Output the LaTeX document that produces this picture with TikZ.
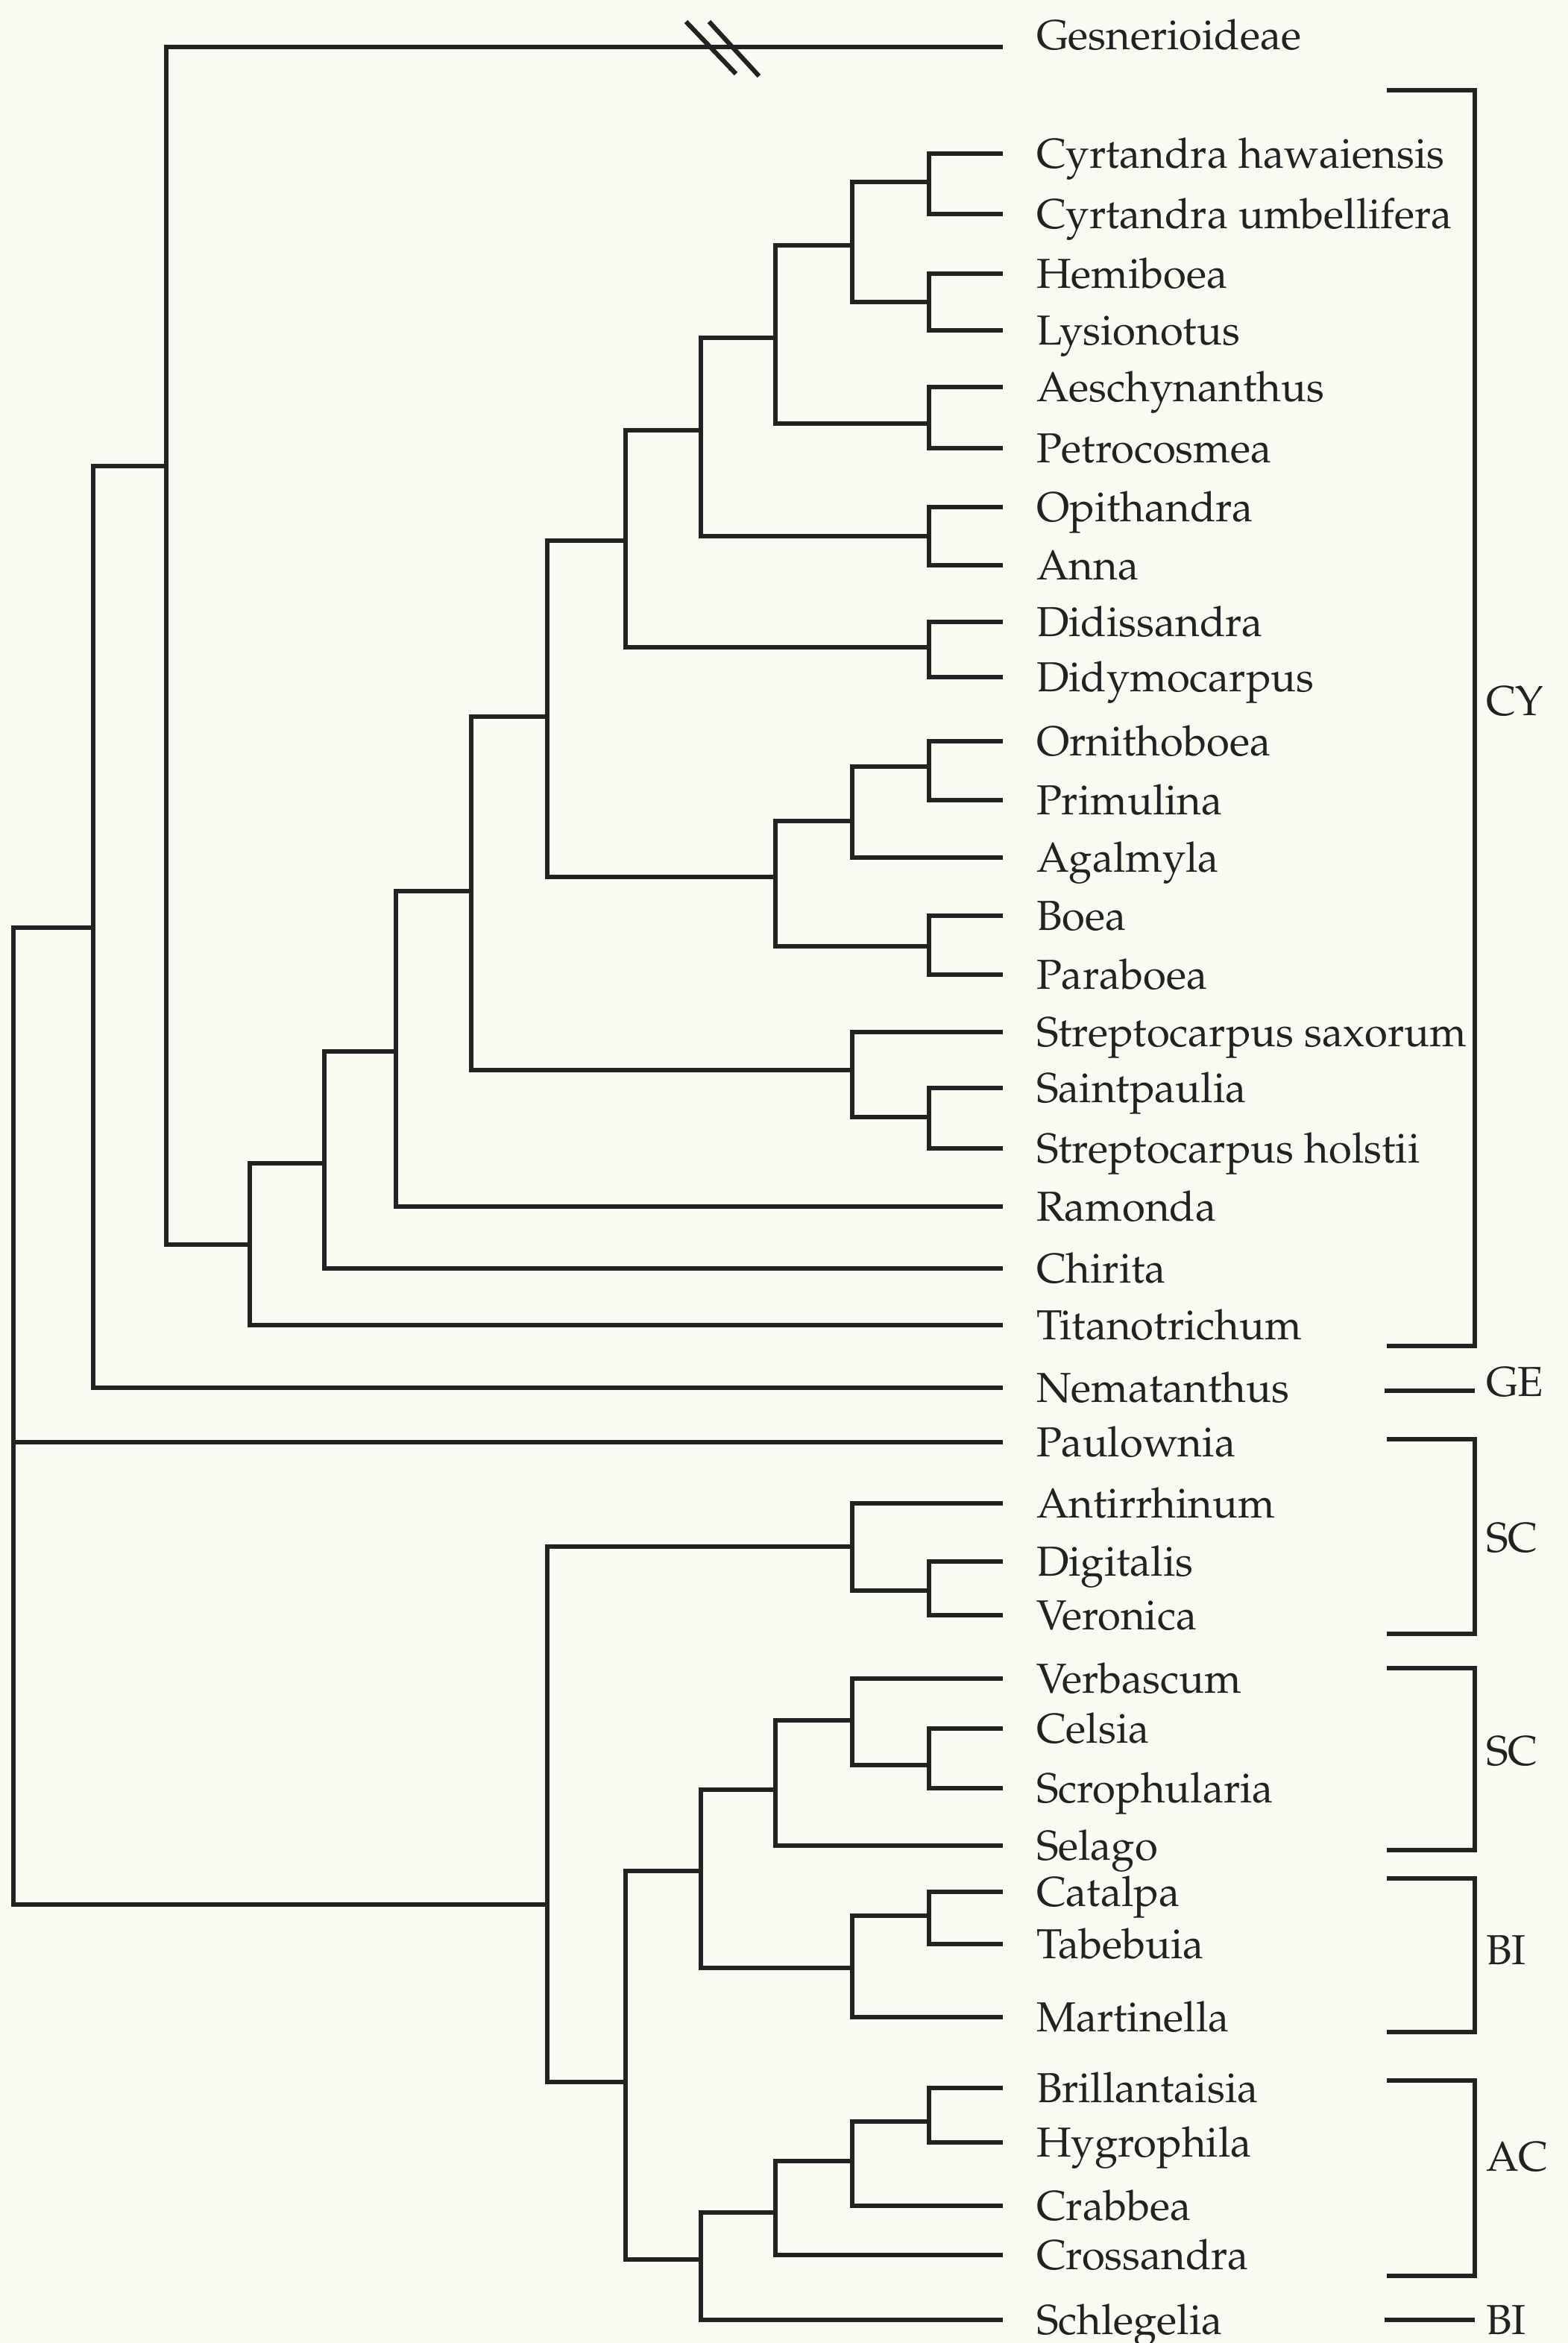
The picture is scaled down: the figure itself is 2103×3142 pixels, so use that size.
\documentclass[tikz,border=0pt]{standalone}
\usepackage[T1]{fontenc}
\usepackage{mathpazo}
\usepackage{xcolor}
\usetikzlibrary{positioning, calc}

\definecolor{paper}{HTML}{FAFAF2}
\definecolor{ink}{HTML}{222222}

\begin{document}
\begin{tikzpicture}[
x=0.1mm, y=-0.1mm,
    branch/.style={draw=ink, line width=1.75pt},
    bracket/.style={draw=ink, line width=1.5pt},
    taxon/.style={anchor=west, inner xsep=4.5mm, inner ysep=0pt, outer sep=0pt, text=ink,
        font=\fontsize{16pt}{19pt}\selectfont, text height=13.3pt, text depth=2.2pt},
    group/.style={taxon, inner xsep=1.5mm}
]

    % Page
    \fill[paper] (0,0) rectangle (2103,3142);
    \useasboundingbox (0,0) rectangle (2103,3142);

    % Taxa (upper part)
    \node[taxon] (gesn) at (1345,47) {Gesnerioideae};
    \coordinate (gtip) at (1345,63);
    \node[taxon] (cyha) at (1345,206) {Cyrtandra hawaiensis};
    \node[taxon] (cyum) at (1345,287) {Cyrtandra umbellifera};
    \node[taxon] (hemi) at (1345,367) {Hemiboea};
    \node[taxon] (lysi) at (1345,443) {Lysionotus};
    \node[taxon] (aesc) at (1345,519) {Aeschynanthus};
    \node[taxon] (petr) at (1345,601) {Petrocosmea};
    \node[taxon] (opit) at (1345,680) {Opithandra};
    \node[taxon] (anna) at (1345,758) {Anna};
    \node[taxon] (didi) at (1345,834) {Didissandra};
    \node[taxon] (didy) at (1345,908) {Didymocarpus};
    \node[taxon] (orni) at (1345,994) {Ornithoboea};
    \node[taxon] (prim) at (1345,1073) {Primulina};
    \node[taxon] (agal) at (1345,1150) {Agalmyla};
    \node[taxon] (boea) at (1345,1228) {Boea};
    \node[taxon] (para) at (1345,1307) {Paraboea};
    \node[taxon] (stsa) at (1345,1384) {Streptocarpus saxorum};
    \node[taxon] (sain) at (1345,1459) {Saintpaulia};
    \node[taxon] (stho) at (1345,1540) {Streptocarpus holstii};
    \node[taxon] (ramo) at (1345,1618) {Ramonda};
    \node[taxon] (chir) at (1345,1701) {Chirita};
    \node[taxon] (tita) at (1345,1777) {Titanotrichum};
    \node[taxon] (nema) at (1345,1861) {Nematanthus};

    % Taxa (lower part)
    \node[taxon] (paul) at (1345,1934) {Paulownia};
    \node[taxon] (anti) at (1345,2016) {Antirrhinum};
    \node[taxon] (digi) at (1345,2094) {Digitalis};
    \node[taxon] (vero) at (1345,2166) {Veronica};
    \node[taxon] (verb) at (1345,2251) {Verbascum};
    \node[taxon] (cels) at (1345,2318) {Celsia};
    \node[taxon] (scro) at (1345,2398) {Scrophularia};
    \node[taxon] (sela) at (1345,2475) {Selago};
    \node[taxon] (cata) at (1345,2537) {Catalpa};
    \node[taxon] (tabe) at (1345,2607) {Tabebuia};
    \node[taxon] (mart) at (1345,2705) {Martinella};
    \node[taxon] (bril) at (1345,2800) {Brillantaisia};
    \node[taxon] (hygr) at (1345,2873) {Hygrophila};
    \node[taxon] (crab) at (1345,2958) {Crabbea};
    \node[taxon] (cros) at (1345,3024) {Crossandra};
    \node[taxon] (schl) at (1345,3111) {Schlegelia};

    % Branch points
    \coordinate (root) at (18,1933);
    \coordinate (gsn) at (125,1244);
    \coordinate (gcore) at (223,625);
    \coordinate (tit) at (335,1669);
    \coordinate (chi) at (435,1560);
    \coordinate (ram) at (531,1410);
    \coordinate (did) at (632,1195);
    \coordinate (dmc) at (734,961);
    \coordinate (dds) at (839,725);
    \coordinate (opg) at (940,577);
    \coordinate (aeg) at (1040,453);
    \coordinate (cyg) at (1143,329);
    \coordinate (cyr) at (1246,244);
    \coordinate (hml) at (1246,405);
    \coordinate (aep) at (1246,568);
    \coordinate (opa) at (1246,719);
    \coordinate (ddd) at (1246,868);
    \coordinate (orb) at (1040,1176);
    \coordinate (orp) at (1143,1101);
    \coordinate (orn) at (1246,1028);
    \coordinate (bop) at (1246,1269);
    \coordinate (stg) at (1143,1435);
    \coordinate (sts) at (1246,1498);
    \coordinate (lam) at (734,2554);
    \coordinate (adv) at (1143,2074);
    \coordinate (dvr) at (1246,2133);
    \coordinate (lmb) at (839,2792);
    \coordinate (scb) at (940,2509);
    \coordinate (scs) at (1040,2400);
    \coordinate (vcs) at (1143,2307);
    \coordinate (csc) at (1246,2367);
    \coordinate (bgn) at (1143,2639);
    \coordinate (ctt) at (1246,2569);
    \coordinate (acs) at (940,3030);
    \coordinate (acc) at (1040,2967);
    \coordinate (acb) at (1143,2898);
    \coordinate (brh) at (1246,2845);

    % Branches
    \draw[branch] (root) |- (gsn) (root) |- (paul.west) (root) |- (lam);
    \draw[branch] (gsn) |- (gcore) (gsn) |- (nema.west);
    \draw[branch] (gcore) |- (gtip) (gcore) |- (tit);
    \draw[branch] (tit) |- (chi) (tit) |- (tita.west);
    \draw[branch] (chi) |- (ram) (chi) |- (chir.west);
    \draw[branch] (ram) |- (did) (ram) |- (ramo.west);
    \draw[branch] (did) |- (dmc) (did) |- (stg);
    \draw[branch] (dmc) |- (dds) (dmc) |- (orb);
    \draw[branch] (dds) |- (opg) (dds) |- (ddd);
    \draw[branch] (opg) |- (aeg) (opg) |- (opa);
    \draw[branch] (aeg) |- (cyg) (aeg) |- (aep);
    \draw[branch] (cyg) |- (cyr) (cyg) |- (hml);
    \draw[branch] (cyr) |- (cyha.west) (cyr) |- (cyum.west);
    \draw[branch] (hml) |- (hemi.west) (hml) |- (lysi.west);
    \draw[branch] (aep) |- (aesc.west) (aep) |- (petr.west);
    \draw[branch] (opa) |- (opit.west) (opa) |- (anna.west);
    \draw[branch] (ddd) |- (didi.west) (ddd) |- (didy.west);
    \draw[branch] (orb) |- (orp) (orb) |- (bop);
    \draw[branch] (orp) |- (orn) (orp) |- (agal.west);
    \draw[branch] (orn) |- (orni.west) (orn) |- (prim.west);
    \draw[branch] (bop) |- (boea.west) (bop) |- (para.west);
    \draw[branch] (stg) |- (stsa.west) (stg) |- (sts);
    \draw[branch] (sts) |- (sain.west) (sts) |- (stho.west);
    \draw[branch] (lam) |- (adv) (lam) |- (lmb);
    \draw[branch] (adv) |- (anti.west) (adv) |- (dvr);
    \draw[branch] (dvr) |- (digi.west) (dvr) |- (vero.west);
    \draw[branch] (lmb) |- (scb) (lmb) |- (acs);
    \draw[branch] (scb) |- (scs) (scb) |- (bgn);
    \draw[branch] (scs) |- (vcs) (scs) |- (sela.west);
    \draw[branch] (vcs) |- (verb.west) (vcs) |- (csc);
    \draw[branch] (csc) |- (cels.west) (csc) |- (scro.west);
    \draw[branch] (bgn) |- (ctt) (bgn) |- (mart.west);
    \draw[branch] (ctt) |- (cata.west) (ctt) |- (tabe.west);
    \draw[branch] (acs) |- (acc) (acs) |- (schl.west);
    \draw[branch] (acc) |- (acb) (acc) |- (cros.west);
    \draw[branch] (acb) |- (brh) (acb) |- (crab.west);
    \draw[branch] (brh) |- (bril.west) (brh) |- (hygr.west);

    % Break in the long branch
    \draw[branch] (920,29) -- (987,99);
    \draw[branch] (951,29) -- (1018,102);

    % Groups
    \node[group] (cy) at (1978,940) {CY};
    \node[group] (ge) at (1978,1853) {GE};
    \node[group] (sc1) at (1978,2062) {SC};
    \node[group] (sc2) at (1978,2348) {SC};
    \node[group] (bi1) at (1978,2615) {BI};
    \node[group] (ac) at (1978,2892) {AC};
    \node[group] (bi2) at (1978,3111) {BI};

    \draw[bracket] (1860,121) -| (1978,1805) -- (1860,1805);
    \draw[bracket] (1857,1865) -- (1978,1865);
    \draw[bracket] (1860,1930) -| (1978,2191) -- (1860,2191);
    \draw[bracket] (1860,2237) -| (1978,2481) -- (1860,2481);
    \draw[bracket] (1860,2519) -| (1978,2725) -- (1860,2725);
    \draw[bracket] (1860,2790) -| (1978,3052) -- (1860,3052);
    \draw[bracket] (1857,3111) -- (bi2.west);

\end{tikzpicture}
\end{document}
